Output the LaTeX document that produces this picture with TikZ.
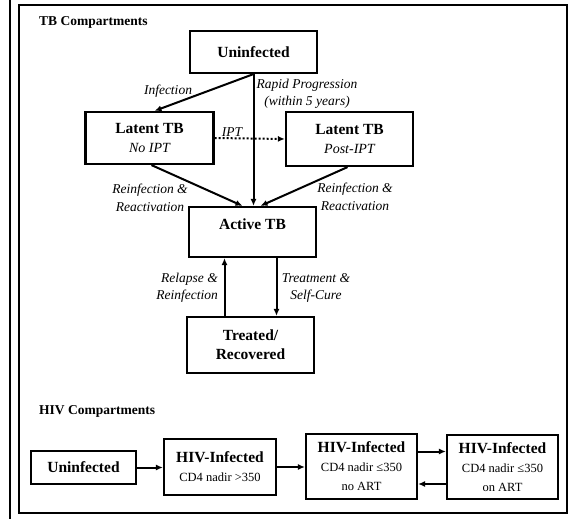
\documentclass[tikz,border=0pt]{standalone}
\usepackage{fontspec}
\setmainfont{Liberation Serif}
\usetikzlibrary{arrows.meta}

\begin{document}
\begin{tikzpicture}[x=1pt,y=-1pt,
    box/.style={draw,line width=2.2pt,inner sep=0pt,align=center,
      font=\fontsize{15.5}{19}\selectfont},
    lbl/.style={inner sep=0pt,align=center,font=\fontsize{13.5}{17.5}\selectfont\itshape},
    head/.style={inner sep=0pt,anchor=west,font=\fontsize{13.5}{16}\selectfont\bfseries},
    arr/.style={line width=2pt,-{Latex[length=7pt,width=6pt]}}]
  \useasboundingbox (0,0) rectangle (579,519);
  \draw[line width=2.8pt] (10,0) -- (10,519);
  \draw[line width=1.6pt] (19,5) rectangle (567,513);

  \node[head] (tbhead) at (39,22) {TB Compartments};
  \node[box,minimum width=127pt,minimum height=42pt] (tbuninf) at (253.5,52) {\bfseries Uninfected};
  \node[box,minimum width=128pt,minimum height=52pt] (latno) at (149.5,138)
    {\bfseries Latent TB\\\fontsize{14}{17}\selectfont\itshape No IPT};
  \node[box,minimum width=127pt,minimum height=54pt] (latpost) at (349.5,139)
    {\bfseries Latent TB\\\fontsize{14}{17}\selectfont\itshape Post-IPT};
  \node[box,minimum width=127pt,text height=22pt,text depth=28pt] (active) at (252.5,232) {\bfseries Active TB};
  \node[box,minimum width=127pt,minimum height=56pt] (treated) at (250.5,345)
    {\bfseries Treated/\\\bfseries Recovered};

  \draw[arr] (tbuninf.south) -- ([xshift=5pt]latno.north);
  \draw[arr] (tbuninf.south) -- (tbuninf.south |- active.north);
  \draw[arr,dotted] (latno.east) -- (latpost.west);
  \draw[arr] ([xshift=2pt]latno.south) -- ([xshift=-10pt]active.north);
  \draw[arr] ([xshift=-2pt]latpost.south) -- ([xshift=8pt]active.north);
  \draw[arr] ([xshift=-26pt]treated.north) -- ([xshift=-26pt]treated.north |- active.south);
  \draw[arr] ([xshift=24pt]active.south) -- ([xshift=24pt]active.south |- treated.north);

  \node[lbl] (infect) at (168,91) {Infection};
  \node[lbl] (rapid) at (307,94) {Rapid Progression\\(within 5 years)};
  \node[lbl] (ipt) at (232,132) {IPT};
  \node[lbl] (reinfl) at (150,198) {Reinfection \&\\Reactivation};
  \node[lbl] (reinfr) at (355,197) {Reinfection \&\\Reactivation};
  \node[lbl,anchor=east,align=right] (relapse) at (218,288) {Relapse \&\\Reinfection};
  \node[lbl] (treat) at (316,288) {Treatment \&\\Self-Cure};

  \node[head] (hivhead) at (39,411) {HIV Compartments};
  \node[box,minimum width=105pt,minimum height=33pt] (hivuninf) at (83.5,467.5) {\bfseries Uninfected};
  \node[box,minimum width=112pt,minimum height=56pt] (hiva) at (220,467)
    {\bfseries HIV-Infected\\\fontsize{12.5}{17}\selectfont CD4 nadir >350};
  \node[box,minimum width=111pt,minimum height=65pt] (hivb) at (361.5,466.5)
    {\bfseries HIV-Infected\\\fontsize{12.5}{17}\selectfont CD4 nadir ≤350\\\fontsize{12.5}{17}\selectfont no ART};
  \node[box,minimum width=111pt,minimum height=64pt] (hivc) at (502.5,467)
    {\bfseries HIV-Infected\\\fontsize{12.5}{17}\selectfont CD4 nadir ≤350\\\fontsize{12.5}{17}\selectfont on ART};

  \draw[arr] (hivuninf.east) -- (hivuninf.east -| hiva.west);
  \draw[arr] (hiva.east) -- (hiva.east -| hivb.west);
  \draw[arr] ([yshift=15pt]hivb.east) -- ([yshift=15pt]hivb.east -| hivc.west);
  \draw[arr] ([yshift=-17pt]hivc.west) -- ([yshift=-17pt]hivc.west -| hivb.east);
\end{tikzpicture}
\end{document}
